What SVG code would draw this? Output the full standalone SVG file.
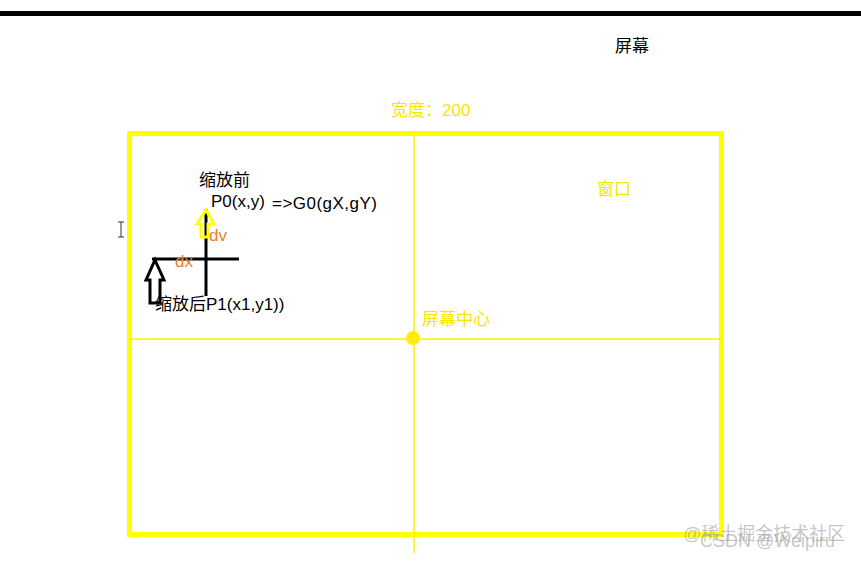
<svg xmlns="http://www.w3.org/2000/svg" width="861" height="561" viewBox="0 0 861 561">
<style>
.t{font-family:"Liberation Sans","Noto Sans CJK SC",sans-serif;font-size:17px}
.blk{fill:#000}
.yel{fill:#f7e600}
.org{fill:#ed7d31}
.wm{font-family:"Liberation Sans","Noto Sans CJK SC",sans-serif;font-size:18px;fill:#a0a0a0;fill-opacity:0.6}
</style>
<rect x="0" y="0" width="861" height="561" fill="#fff"/>
<rect x="0" y="11" width="861" height="5" fill="#000"/>
<g id="screen-label"><text class="t blk" x="615" y="52">屏幕</text></g>
<g id="window">
<rect x="129.5" y="133.5" width="592" height="401" fill="none" stroke="#ffff00" stroke-width="5"/>
<text class="t yel" x="391" y="116">宽度：200</text>
<text class="t yel" x="597" y="195">窗口</text>
</g>
<g id="axes">
<line x1="414" y1="133" x2="414" y2="553" stroke="#ffee00" stroke-width="1.5"/>
<line x1="130" y1="339" x2="722" y2="339" stroke="#ffee00" stroke-width="1.5"/>
</g>
<g id="center">
<circle cx="413" cy="338" r="7" fill="#ffee00"/>
<text class="t yel" x="422" y="325">屏幕中心</text>
</g>
<g id="connectors">
<line x1="206" y1="209" x2="206" y2="296" stroke="#000" stroke-width="3"/>
<line x1="152" y1="259" x2="239" y2="259" stroke="#000" stroke-width="3"/>
<polygon points="206,210 214,224 208,224 208,237 201,237 201,224 197,224" fill="none" stroke="#ffff00" stroke-width="3" stroke-linejoin="miter"/>
<polygon points="155,260 164,280 160,280 160,303 150,303 150,280 146,280" fill="none" stroke="#000" stroke-width="3" stroke-linejoin="miter"/>
</g>
<g id="p0">
<text class="t blk" x="199" y="186">缩放前</text>
<text class="t blk" x="211" y="207">P0(x,y)</text>
<text class="t blk" x="272" y="209" textLength="105" lengthAdjust="spacing">=&gt;G0(gX,gY)</text>
</g>
<g id="labels">
<text class="t org" x="209" y="241">dv</text>
<text class="t org" x="175" y="267">dx</text>
</g>
<g id="p1"><text class="t blk" x="155" y="310">缩放后P1(x1,y1))</text></g>
<g id="cursor" stroke="#333" stroke-width="1" fill="none">
<line x1="121" y1="222" x2="121" y2="237"/>
<line x1="118" y1="222" x2="124" y2="222"/>
<line x1="118" y1="237" x2="124" y2="237"/>
</g>
<g id="watermark">
<text class="wm" x="683" y="540">@稀土掘金技术社区</text>
<text class="wm" x="700" y="547">CSDN @Weipiru</text>
</g>
</svg>
